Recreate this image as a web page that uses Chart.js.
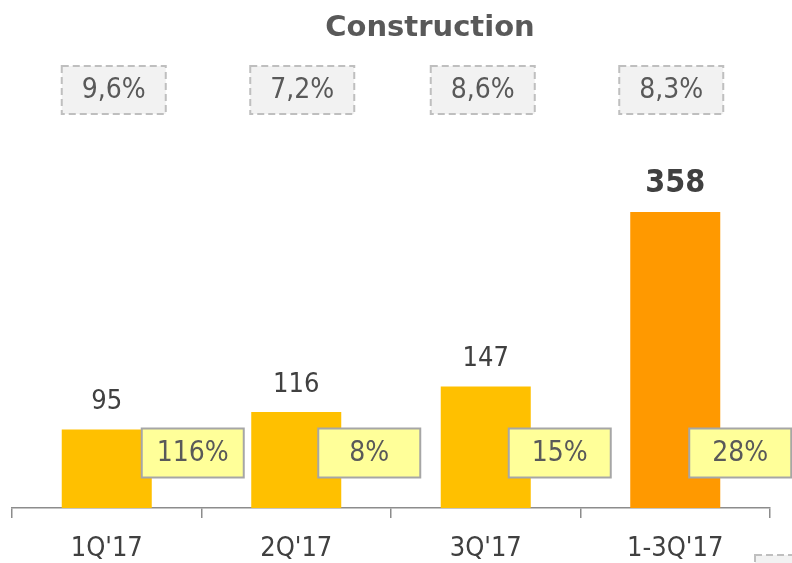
<!DOCTYPE html>
<html>
<head>
<meta charset="utf-8">
<script src="https://cdn.jsdelivr.net/npm/chart.js@4/dist/chart.umd.min.js"></script>
<style>
  html, body { margin: 0; padding: 0; background: #fff; }
  #wrap { width: 792px; height: 563px; position: relative; }
</style>
</head>
<body>
<div id="wrap"><canvas id="chart" width="792" height="563"></canvas></div>
<script>
var categories = ["1Q'17", "2Q'17", "3Q'17", "1-3Q'17"];
var values = [95, 116, 147, 358];
var marginLabels = ["9,6%", "7,2%", "8,6%", "8,3%"];
var growthLabels = ["116%", "8%", "15%", "28%"];

var FONT = "'DejaVu Sans Condensed', 'Noto Sans', sans-serif";

// boxes, title and value labels drawn on top of the bars
var overlay = {
    id: "overlay",
    afterDatasetsDraw: function (chart) {
        var ctx = chart.ctx;
        var x = chart.scales.x;
        var meta = chart.getDatasetMeta(0);
        ctx.save();

        ctx.fillStyle = "#595959";
        ctx.font = "bold 29px 'DejaVu Sans', sans-serif";
        ctx.textAlign = "center";
        ctx.textBaseline = "middle";
        ctx.fillText("Construction", 430, 28);

        function box(cx, cy, w, h, fill, stroke, dashed, text) {
            ctx.fillStyle = fill;
            ctx.fillRect(cx - w / 2, cy - h / 2, w, h);
            ctx.strokeStyle = stroke;
            ctx.lineWidth = 2;
            ctx.setLineDash(dashed ? [7, 4] : []);
            ctx.strokeRect(cx - w / 2, cy - h / 2, w, h);
            ctx.setLineDash([]);
            if (text) {
                ctx.fillStyle = "#595959";
                ctx.font = "28px " + FONT;
                ctx.fillText(text, cx, cy + 1);
            }
        }

        var topShift = [7, 6, -3, -4];
        var growShift = [86, 73, 74, 65];
        for (var i = 0; i < categories.length; i++) {
            var cx = x.getPixelForValue(i);
            box(cx + topShift[i], 90, 104, 48, "#F2F2F2", "#BFBFBF", true, marginLabels[i]);
        }
        for (var i = 0; i < categories.length; i++) {
            var cx = x.getPixelForValue(i);
            box(cx + growShift[i], 453, 102, 49, "#FFFF99", "#A6A6A6", false, growthLabels[i]);
        }
        // partly visible box at the lower right edge
        box(800, 575, 90, 40, "#F2F2F2", "#BFBFBF", true, "");

        for (var i = 0; i < values.length; i++) {
            var bar = meta.data[i];
            var last = i === values.length - 1;
            ctx.fillStyle = "#404040";
            ctx.font = (last ? "bold 32px " : "27px ") + FONT;
            ctx.fillText(String(values[i]), bar.x, bar.y - (last ? 28 : 27));
        }
        ctx.restore();
    }
};

new Chart(document.getElementById("chart").getContext("2d"), {
    type: "bar",
    data: {
        labels: categories,
        datasets: [{
            data: values,
            backgroundColor: ["#FFC000", "#FFC000", "#FFC000", "#FF9900"],
            borderWidth: 0,
            barPercentage: 0.95,
            categoryPercentage: 0.5
        }]
    },
    options: {
        responsive: false,
        animation: false,
        layout: { padding: { left: 12, right: 22, top: 136, bottom: 0 } },
        plugins: { legend: { display: false }, tooltip: { enabled: false } },
        scales: {
            x: {
                afterFit: function (scale) { scale.height = 55; },
                grid: { offset: true, drawOnChartArea: false, color: "#8C8C8C", tickLength: 10, lineWidth: 1.5 },
                border: { color: "#8C8C8C", width: 1.5 },
                ticks: { color: "#404040", font: { family: FONT, size: 27 }, padding: 15 }
            },
            y: {
                display: false,
                min: 0,
                max: 450
            }
        }
    },
    plugins: [overlay]
});
</script>
</body>
</html>
